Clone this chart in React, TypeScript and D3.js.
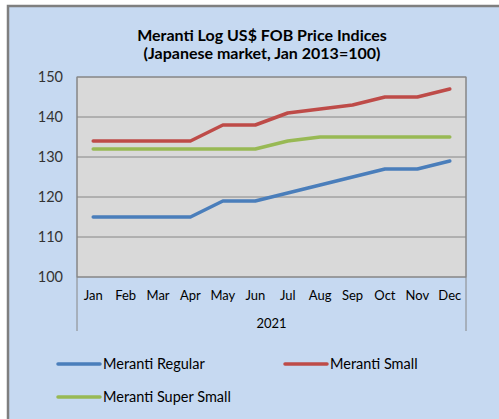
import React from 'react'
import * as d3 from 'd3'

const width = 499
const height = 419

const months = ['Jan', 'Feb', 'Mar', 'Apr', 'May', 'Jun', 'Jul', 'Aug', 'Sep', 'Oct', 'Nov', 'Dec']
const regular = [115, 115, 115, 115, 119, 119, 121, 123, 125, 127, 127, 129]
const small = [134, 134, 134, 134, 138, 138, 141, 142, 143, 145, 145, 147]
const superSmall = [132, 132, 132, 132, 132, 132, 134, 135, 135, 135, 135, 135]
const yTicks = [100, 110, 120, 130, 140, 150]
const seriesNames = ['Meranti Regular', 'Meranti Small', 'Meranti Super Small']
const seriesColors = ['#4a7ebb', '#be4b48', '#98b954']

const font = 'Lato, Carlito, "Open Sans", sans-serif'

const margin = { left: 77, right: 466, top: 77, bottom: 277 }

const App: React.FC = () => {
  const x = d3.scaleBand().domain(months).range([margin.left, margin.right])
  const y = d3.scaleLinear().domain([100, 150]).range([margin.bottom, margin.top])

  const line = d3.line<number>()
    .x((_, i) => (x(months[i]) || 0) + x.bandwidth() / 2)
    .y(d => y(d))

  const series = [regular, small, superSmall]

  return (
    <svg width={width} height={height} style={{ position: 'absolute', left: 0, top: 0, fontFamily: font }}>
      <rect x={0} y={0} width={width} height={height} fill="#fff" />
      <rect x={8} y={6} width={width + 10} height={height + 10} fill="#c6d9f1" stroke="#7f7f7f" strokeWidth={2.5} />

      <text x={262} y={41} textAnchor="middle" fontSize={16} fontWeight="bold" fill="#000">
        Meranti Log US$ FOB Price Indices
      </text>
      <text x={262} y={59} textAnchor="middle" fontSize={16} fontWeight="bold" fill="#000">
        (Japanese market, Jan  2013=100)
      </text>

      <rect x={margin.left} y={margin.top} width={margin.right - margin.left} height={margin.bottom - margin.top} fill="#d9d9d9" stroke="#868686" strokeWidth={1} />

      {yTicks.map(t => (
        <g key={t}>
          <line x1={margin.left} x2={margin.right} y1={y(t)} y2={y(t)} stroke="#868686" strokeWidth={1} />
          <text x={63} y={y(t)} dy="0.35em" textAnchor="end" fontSize={14.5} fill="#333">{t}</text>
        </g>
      ))}

      <line x1={margin.left} x2={margin.left} y1={margin.top} y2={331} stroke="#868686" strokeWidth={1} />
      <line x1={margin.right} x2={margin.right} y1={margin.top} y2={331} stroke="#868686" strokeWidth={1} />

      {months.map(m => (
        <text key={m} x={(x(m) || 0) + x.bandwidth() / 2} y={295} dy="0.35em" textAnchor="middle" fontSize={13} fill="#000">{m}</text>
      ))}
      <text x={(margin.left + margin.right) / 2} y={323} dy="0.35em" textAnchor="middle" fontSize={13} fill="#000">2021</text>

      {series.map((s, i) => (
        <path key={i} d={line(s) || ''} fill="none" stroke={seriesColors[i]} strokeWidth={3.5} strokeLinejoin="round" strokeLinecap="round" />
      ))}

      {seriesNames.map((name, i) => {
        const lx = i === 1 ? 285 : 58
        const ly = i === 2 ? 397 : 364
        return (
          <g key={name}>
            <line x1={lx} x2={lx + 42} y1={ly} y2={ly} stroke={seriesColors[i]} strokeWidth={3.5} strokeLinecap="round" />
            <text x={lx + 45} y={ly} dy="0.35em" fontSize={14.5} fill="#000">{name}</text>
          </g>
        )
      })}
    </svg>
  )
}

export default App
